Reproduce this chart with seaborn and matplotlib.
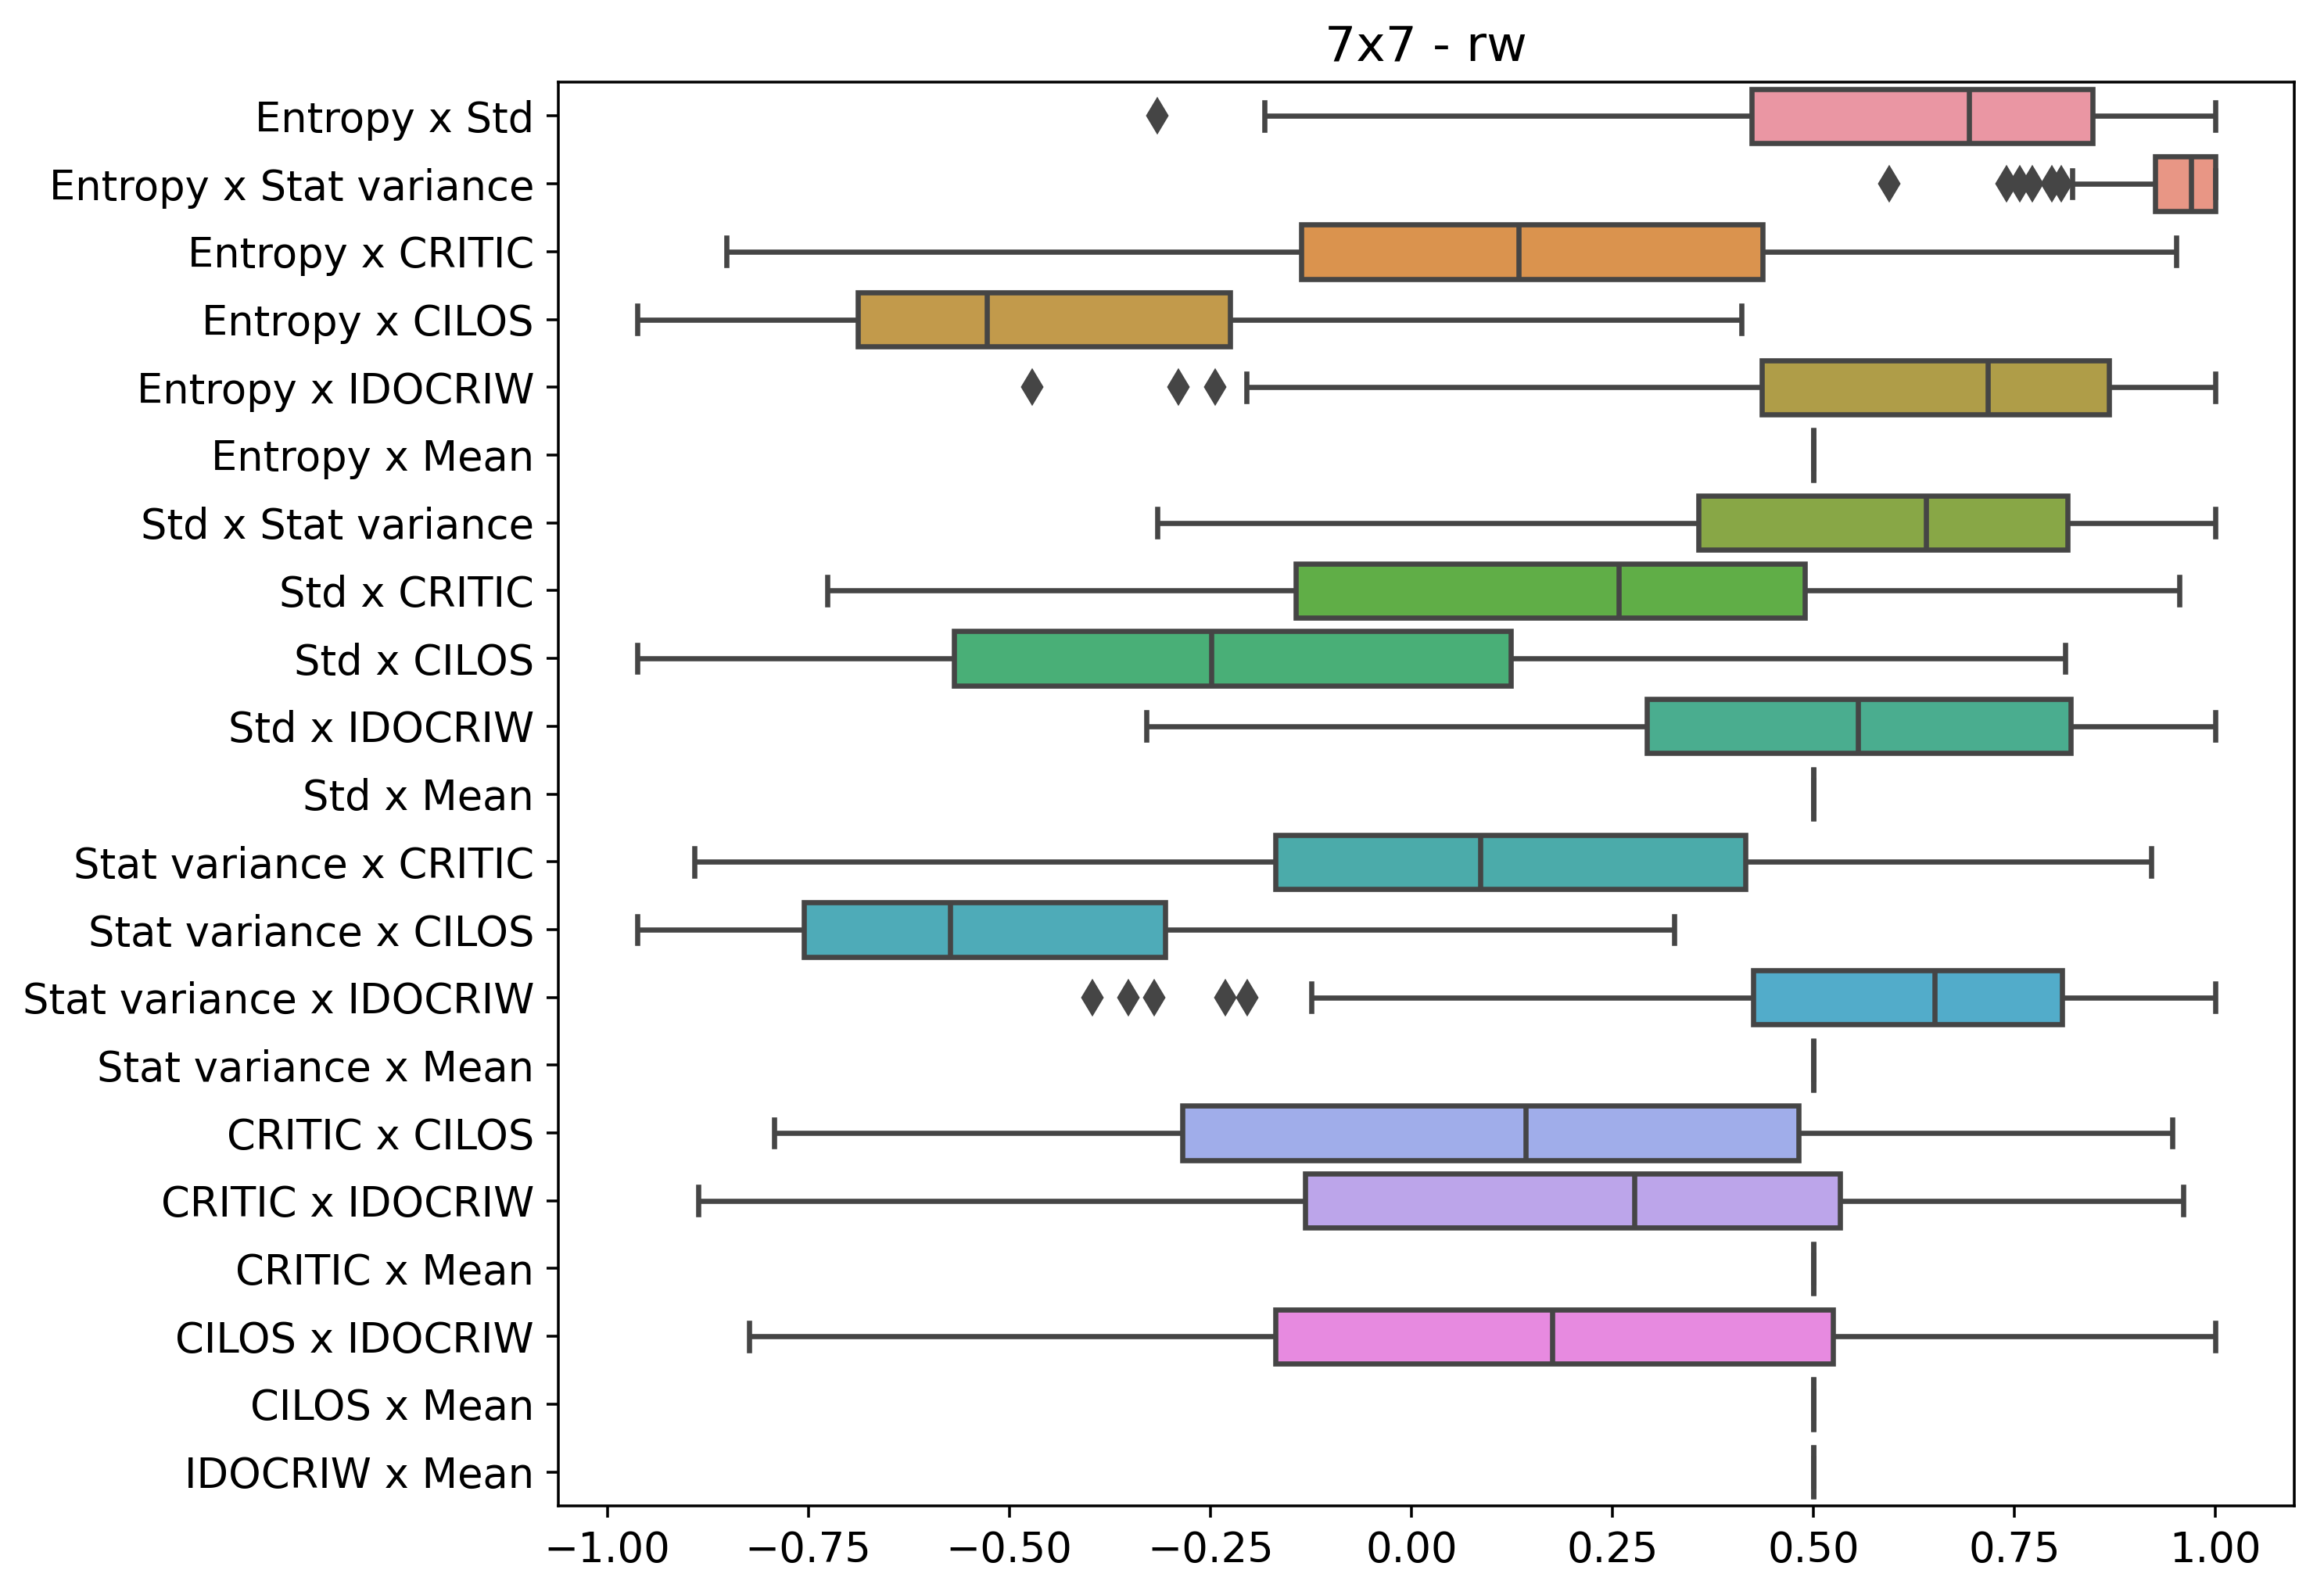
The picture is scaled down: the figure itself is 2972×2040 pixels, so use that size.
import pandas as pd
import matplotlib
matplotlib.use('Agg')
import matplotlib.pyplot as plt
import seaborn as sns

# ------------------------------------------------------------
# Box statistics (7x7 - rw)
# ------------------------------------------------------------
pairs = [
    'Entropy x Std', 'Entropy x Stat variance', 'Entropy x CRITIC',
    'Entropy x CILOS', 'Entropy x IDOCRIW', 'Entropy x Mean',
    'Std x Stat variance', 'Std x CRITIC', 'Std x CILOS', 'Std x IDOCRIW',
    'Std x Mean', 'Stat variance x CRITIC', 'Stat variance x CILOS',
    'Stat variance x IDOCRIW', 'Stat variance x Mean', 'CRITIC x CILOS',
    'CRITIC x IDOCRIW', 'CRITIC x Mean', 'CILOS x IDOCRIW', 'CILOS x Mean',
    'IDOCRIW x Mean',
]
whisker_low = [-0.183, 0.822, -0.852, -0.963, -0.205, 0.5, -0.316, -0.726,
               -0.963, -0.330, 0.5, -0.892, -0.963, -0.124, 0.5, -0.793,
               -0.887, 0.5, -0.824, 0.5, 0.5]
q1 = [0.423, 0.925, -0.137, -0.689, 0.436, 0.5, 0.357, -0.144, -0.569,
      0.293, 0.5, -0.169, -0.756, 0.425, 0.5, -0.285, -0.132, 0.5, -0.169,
      0.5, 0.5]
median = [0.694, 0.970, 0.133, -0.528, 0.717, 0.5, 0.640, 0.258, -0.249,
          0.555, 0.5, 0.086, -0.574, 0.651, 0.5, 0.142, 0.277, 0.5, 0.175,
          0.5, 0.5]
q3 = [0.847, 1.0, 0.437, -0.226, 0.868, 0.5, 0.816, 0.489, 0.124, 0.820,
      0.5, 0.415, -0.306, 0.809, 0.5, 0.482, 0.533, 0.5, 0.524, 0.5, 0.5]
whisker_high = [1.0, 1.0, 0.951, 0.411, 1.0, 0.5, 1.0, 0.955, 0.813, 1.0,
                0.5, 0.920, 0.327, 1.0, 0.5, 0.946, 0.960, 0.5, 1.0, 0.5, 0.5]
outliers = [
    [-0.316],
    [0.594, 0.740, 0.757, 0.772, 0.797, 0.808],
    [], [],
    [-0.472, -0.290, -0.244],
    [], [], [], [], [], [], [], [],
    [-0.397, -0.352, -0.320, -0.231, -0.204],
    [], [], [], [], [], [], [],
]

# raw samples that reproduce those quartiles / whiskers
rows = []
for i, name in enumerate(pairs):
    vals = ([whisker_low[i]] + [q1[i]] * 20 + [median[i]] * 20
            + [q3[i]] * 20 + [whisker_high[i]] + outliers[i])
    rows += [(name, v) for v in vals]
df = pd.DataFrame(rows, columns=['pair', 'corr'])

# ------------------------------------------------------------
# Plot
# ------------------------------------------------------------
dpi = 316.8
plt.rcParams['font.size'] = 12

fig, ax = plt.subplots(figsize=(2972 / dpi, 2040 / dpi))
palette = sns.husl_palette(len(pairs), l=.7)
sns.boxplot(data=df, x='corr', y='pair', hue='pair', palette=palette,
            legend=False, orient='h', linewidth=1.5, ax=ax,
            flierprops=dict(marker='d', markersize=6.5))

# filled diamonds in the same gray as the box lines
for line in ax.lines:
    if line.get_marker() == 'd':
        gray = line.get_markeredgecolor()
        line.set_markerfacecolor(gray)

ax.set_title('7x7 - rw')
ax.set_xlabel('')
ax.set_ylabel('')

fig.subplots_adjust(left=0.2402, right=0.9872, top=0.9485, bottom=0.0559)
fig.savefig('out.png', dpi=dpi)
